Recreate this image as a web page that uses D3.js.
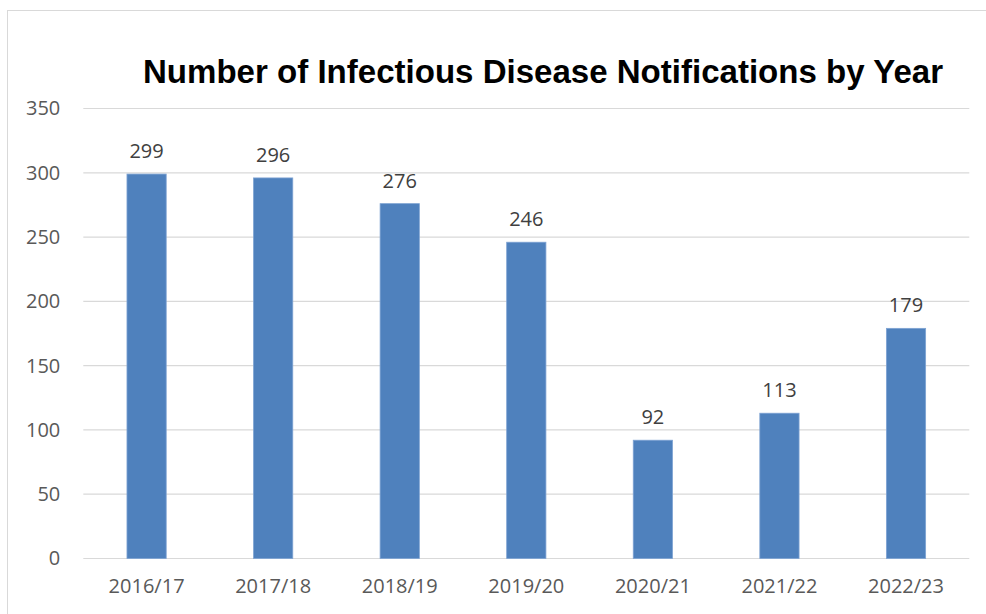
<!DOCTYPE html>
<html>
<head>
<meta charset="utf-8">
<script src="https://cdn.jsdelivr.net/npm/d3@7"></script>
<style>
  body { margin: 0; background: #fff; }
  svg { display: block; }
</style>
</head>
<body>
<svg id="chart" width="986" height="614"></svg>
<script>
// chart data
const years = ['2016/17', '2017/18', '2018/19', '2019/20', '2020/21', '2021/22', '2022/23'];
const notifications = [299, 296, 276, 246, 92, 113, 179];
const yTicks = [0, 50, 100, 150, 200, 250, 300, 350];

const svg = d3.select('#chart');
const plotLeft = 83.3, plotRight = 969.3, plotTop = 108.5, plotBottom = 558.5;

// outer chart border (only top/left visible in the shot)
svg.append('rect')
    .attr('x', 7.5).attr('y', 10.5).attr('width', 1000).attr('height', 700)
    .style('fill', 'none').style('stroke', '#d9d9d9').style('stroke-width', 1);

const x = d3.scaleBand().domain(years).range([plotLeft, plotRight]).paddingInner(0.69).paddingOuter(0.345);
const y = d3.scaleLinear().domain([0, 350]).range([plotBottom, plotTop]);

// gridlines
svg.append('g').selectAll('line').data(yTicks).join('line')
    .attr('x1', plotLeft).attr('x2', plotRight)
    .attr('y1', d => y(d)).attr('y2', d => y(d))
    .style('stroke', '#d9d9d9').style('stroke-width', 1.2);

// y axis labels
const yAxis = svg.append('g').attr('transform', `translate(${plotLeft},0)`)
    .call(d3.axisLeft(y).tickValues(yTicks).tickSize(0).tickPadding(23));
yAxis.select('.domain').remove();
yAxis.selectAll('text')
    .style('font-family', '"Open Sans", sans-serif').style('font-size', '20px').style('fill', '#595959');

// x axis labels
const xAxis = svg.append('g').attr('transform', `translate(0,${plotBottom})`)
    .call(d3.axisBottom(x).tickSize(0).tickPadding(20));
xAxis.select('.domain').remove();
xAxis.selectAll('text')
    .style('font-family', '"Open Sans", sans-serif').style('font-size', '20px').style('fill', '#595959');

// bars
svg.append('g').selectAll('rect').data(notifications).join('rect')
    .attr('x', (d, i) => x(years[i]))
    .attr('y', d => y(d))
    .attr('width', x.bandwidth())
    .attr('height', d => y(0) - y(d))
    .style('fill', '#4f81bd').style('stroke', '#7ea3d3').style('stroke-width', 0.8);

// value labels
svg.append('g').selectAll('text').data(notifications).join('text')
    .attr('x', (d, i) => x(years[i]) + x.bandwidth() / 2)
    .attr('y', d => y(d) - 16)
    .attr('text-anchor', 'middle')
    .style('font-family', '"Open Sans", sans-serif').style('font-size', '20px').style('fill', '#404040')
    .text(d => d);

// title
svg.append('text')
    .attr('x', 143).attr('y', 83)
    .attr('textLength', 800).attr('lengthAdjust', 'spacingAndGlyphs')
    .style('font-family', '"Liberation Sans", Arial, sans-serif').style('font-size', '33px')
    .style('font-weight', 'bold').style('fill', '#000')
    .text('Number of Infectious Disease Notifications by Year');
</script>
</body>
</html>
